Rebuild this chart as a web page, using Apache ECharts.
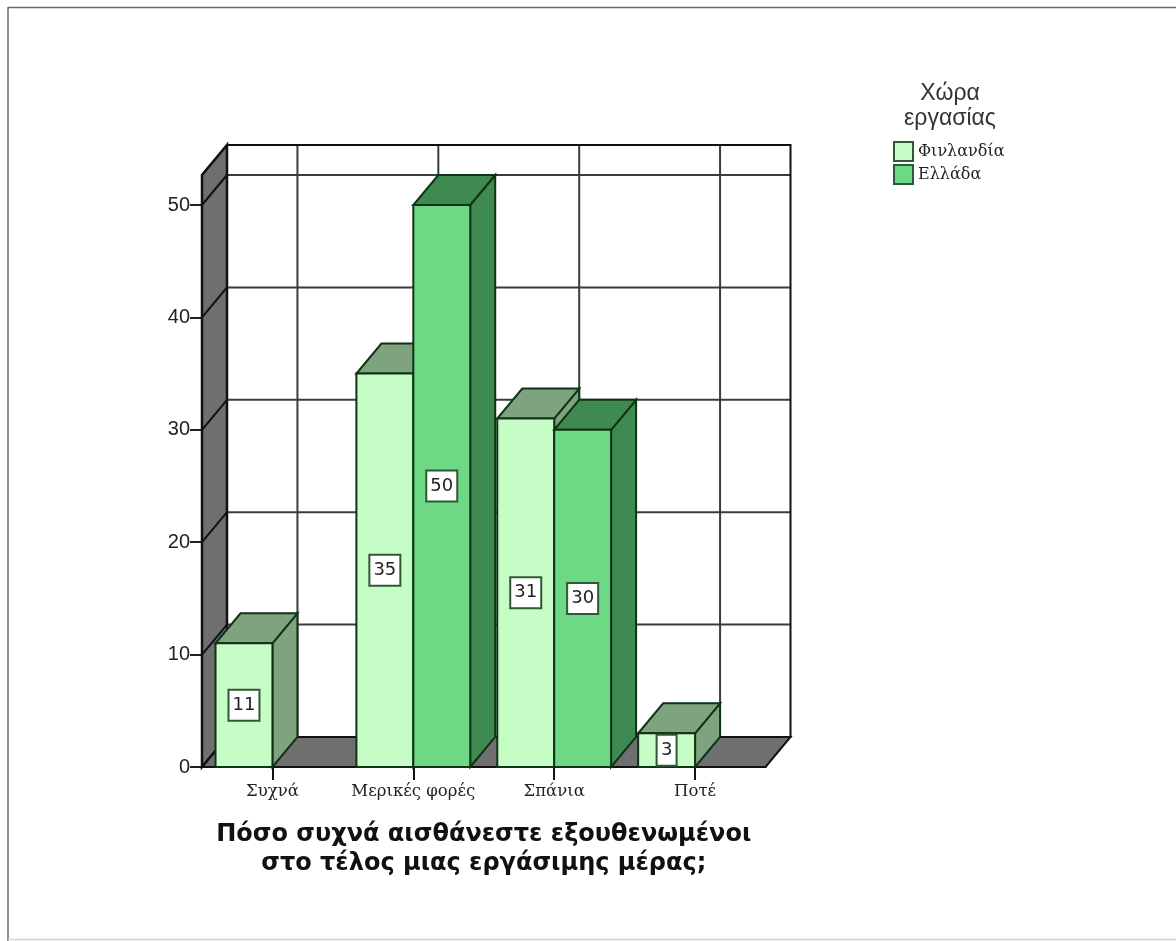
<!DOCTYPE html>
<html>
<head>
<meta charset="utf-8">
<title>Συχνότητα εξάντλησης ανά χώρα εργασίας</title>
<script src="https://cdn.jsdelivr.net/npm/echarts@6/dist/echarts.min.js"></script>
<style>
  html, body { margin: 0; padding: 0; background: #fff; }
  #chart { width: 1176px; height: 941px; }
</style>
</head>
<body>
<div id="chart"></div>
<script>
// Responses per answer and country of work
const categories = ['Συχνά', 'Μερικές φορές', 'Σπάνια', 'Ποτέ'];
const finland = [11, 35, 31, 3];
const greece = [null, 50, 30, null];
const yTicks = [0, 10, 20, 30, 40, 50];
const wallTop = 52.67;

const seriesNames = ['Φινλανδία', 'Ελλάδα'];
const axisTitle = 'Πόσο συχνά αισθάνεστε εξουθενωμένοι\nστο τέλος μιας εργάσιμης μέρας;';
const legendTitle = 'Χώρα\nεργασίας';

// Oblique projection of the box: depth moves right and up by these amounts
const DEPTH_X = 25;
const DEPTH_Y = 30;
const BAR_BAND = 0.404;

const INK = '#111';
const GRID_INK = '#3c3c3c';
const WALL = '#6f6f6f';
const BAR_EDGE = '#0e3315';
const LABEL_EDGE = '#2d5a35';

const palette = [
  { front: '#c6fdc6', shade: '#7ea37e' },
  { front: '#6dd985', shade: '#3f8a50' }
];

function poly(points, fill, stroke, width) {
  return {
    type: 'polygon',
    shape: { points },
    style: { fill, stroke, lineWidth: width, lineJoin: 'miter' }
  };
}

function line(a, b, stroke, width) {
  return {
    type: 'line',
    shape: { x1: a[0], y1: a[1], x2: b[0], y2: b[1] },
    style: { stroke, lineWidth: width }
  };
}

// Back wall, side wall, floor and their grid lines
function renderFrame(params, api) {
  const band = api.size([1, 0])[0];
  const left = api.coord([0, 0])[0] - band / 2;
  const right = api.coord([categories.length - 1, 0])[0] + band / 2;
  const base = api.coord([0, 0])[1];
  const top = api.coord([0, wallTop])[1];
  const children = [];

  children.push({
    type: 'rect',
    shape: { x: left + DEPTH_X, y: top - DEPTH_Y, width: right - left, height: base - top },
    style: { fill: '#fff', stroke: 'none' }
  });
  yTicks.forEach(function (v) {
    const y = api.coord([0, v])[1];
    if (v > 0) {
      children.push(line([left + DEPTH_X, y - DEPTH_Y], [right + DEPTH_X, y - DEPTH_Y], GRID_INK, 2));
    }
  });
  categories.forEach(function (c, i) {
    const x = api.coord([i, 0])[0] + DEPTH_X;
    children.push(line([x, top - DEPTH_Y], [x, base - DEPTH_Y], GRID_INK, 2));
  });
  children.push({
    type: 'rect',
    shape: { x: left + DEPTH_X, y: top - DEPTH_Y, width: right - left, height: base - top },
    style: { fill: 'none', stroke: INK, lineWidth: 2 }
  });
  children.push(poly([
    [left, base], [left + DEPTH_X, base - DEPTH_Y],
    [left + DEPTH_X, top - DEPTH_Y], [left, top]
  ], WALL, INK, 2.5));
  children.push(poly([
    [left, base], [right, base],
    [right + DEPTH_X, base - DEPTH_Y], [left + DEPTH_X, base - DEPTH_Y]
  ], WALL, INK, 2));
  yTicks.forEach(function (v) {
    const y = api.coord([0, v])[1];
    children.push(line([left, y], [left + DEPTH_X, y - DEPTH_Y], INK, 2));
  });
  return { type: 'group', children };
}

// One extruded bar with its boxed value; side 0 sits left of the tick, side 1 right of it
function barRenderer(side) {
  return function (params, api) {
    const value = api.value(1);
    if (value == null || isNaN(value)) return null;
    const colors = palette[side];
    const center = api.coord([api.value(0), 0])[0];
    const w = api.size([1, 0])[0] * BAR_BAND;
    const x0 = center + (side === 0 ? -w : 0);
    const x1 = x0 + w;
    const y0 = api.coord([api.value(0), 0])[1];
    const y1 = api.coord([api.value(0), value])[1];
    const text = String(value);
    const boxW = text.length > 1 ? 31 : 20;
    const boxH = 31;
    const cx = (x0 + x1) / 2;
    const cy = (y0 + y1) / 2;
    return {
      type: 'group',
      children: [
        poly([[x1, y0], [x1 + DEPTH_X, y0 - DEPTH_Y], [x1 + DEPTH_X, y1 - DEPTH_Y], [x1, y1]], colors.shade, BAR_EDGE, 2),
        poly([[x0, y1], [x1, y1], [x1 + DEPTH_X, y1 - DEPTH_Y], [x0 + DEPTH_X, y1 - DEPTH_Y]], colors.shade, BAR_EDGE, 2),
        { type: 'rect', shape: { x: x0, y: y1, width: w, height: y0 - y1 }, style: { fill: colors.front, stroke: BAR_EDGE, lineWidth: 2 } },
        { type: 'rect', shape: { x: cx - boxW / 2, y: cy - boxH / 2, width: boxW, height: boxH }, style: { fill: '#fff', stroke: LABEL_EDGE, lineWidth: 2 } },
        { type: 'text', style: { x: cx, y: cy, text, fill: '#222', font: '18px "DejaVu Sans"', align: 'center', verticalAlign: 'middle' } }
      ]
    };
  };
}

const chart = echarts.init(document.getElementById('chart'), null, { renderer: 'canvas' });

chart.setOption({
  animation: false,
  backgroundColor: '#fff',
  grid: { left: 202, top: 205, width: 563.5, height: 562, containLabel: false },
  title: {
    text: legendTitle,
    left: 950,
    top: 81,
    padding: 0,
    textAlign: 'center',
    textStyle: { fontFamily: 'Liberation Sans', fontWeight: 'normal', fontSize: 23, lineHeight: 25, color: '#333' }
  },
  legend: {
    orient: 'vertical',
    left: 893,
    top: 141,
    padding: 0,
    itemWidth: 19,
    itemHeight: 19,
    itemGap: 2,
    icon: 'rect',
    data: seriesNames,
    textStyle: { fontFamily: 'DejaVu Serif', fontSize: 16, lineHeight: 19, color: '#222' }
  },
  xAxis: {
    type: 'category',
    data: categories,
    boundaryGap: true,
    axisLine: { lineStyle: { color: INK, width: 2 } },
    axisTick: { show: true, alignWithLabel: true, length: 13, lineStyle: { color: INK, width: 2 } },
    axisLabel: { margin: 16, interval: 0, fontFamily: 'DejaVu Serif', fontSize: 16.5, color: '#222' },
    name: axisTitle,
    nameLocation: 'middle',
    nameGap: 53,
    nameTextStyle: { fontFamily: 'DejaVu Sans', fontWeight: 'bold', fontSize: 24, lineHeight: 29, color: '#111' }
  },
  yAxis: {
    type: 'value',
    min: 0,
    max: 50,
    interval: 10,
    splitLine: { show: false },
    axisLine: { show: true, lineStyle: { color: INK, width: 2 } },
    axisTick: { show: true, length: 12, lineStyle: { color: '#222', width: 2 } },
    axisLabel: { margin: 12, fontFamily: 'Liberation Sans', fontSize: 20, color: '#222' }
  },
  graphic: [
    { type: 'line', silent: true, shape: { x1: 8, y1: 7.5, x2: 1176, y2: 7.5 }, style: { stroke: '#6b6b6b', lineWidth: 1.5 } },
    { type: 'line', silent: true, shape: { x1: 8, y1: 7, x2: 8, y2: 941 }, style: { stroke: '#6b6b6b', lineWidth: 1.5 } },
    { type: 'line', silent: true, shape: { x1: 8, y1: 939.5, x2: 1176, y2: 939.5 }, style: { stroke: '#d4d4d4', lineWidth: 1.5 } }
  ],
  series: [
    {
      type: 'custom',
      name: 'frame',
      z: 1,
      silent: true,
      renderItem: renderFrame,
      data: [[categories[0], 0]],
      encode: { x: 0, y: 1 }
    },
    {
      type: 'custom',
      name: seriesNames[0],
      z: 3,
      renderItem: barRenderer(0),
      itemStyle: { color: palette[0].front, borderColor: LABEL_EDGE, borderWidth: 2 },
      data: categories.map((c, i) => [c, finland[i]]),
      encode: { x: 0, y: 1 }
    },
    {
      type: 'custom',
      name: seriesNames[1],
      z: 4,
      renderItem: barRenderer(1),
      itemStyle: { color: palette[1].front, borderColor: LABEL_EDGE, borderWidth: 2 },
      data: categories.map((c, i) => [c, greece[i]]),
      encode: { x: 0, y: 1 }
    }
  ]
});
</script>
</body>
</html>
